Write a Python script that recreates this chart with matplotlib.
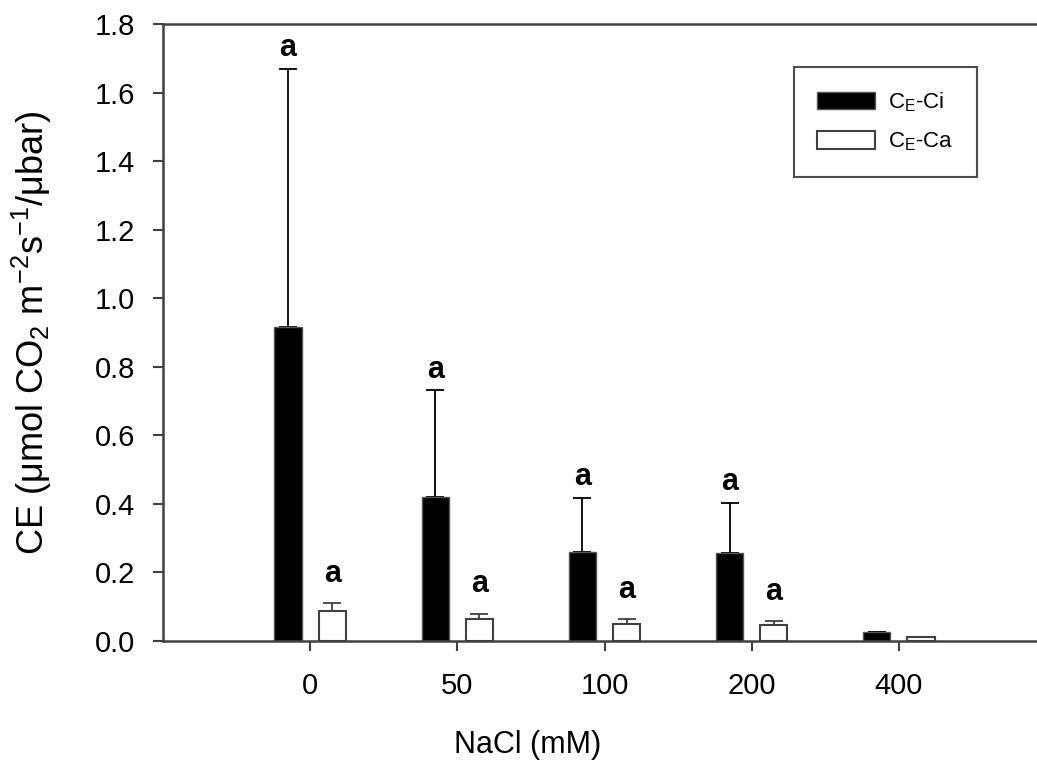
import matplotlib
matplotlib.use("Agg")
import matplotlib.pyplot as plt
import numpy as np

plt.rcParams['font.family'] = ['Liberation Sans', 'DejaVu Sans']
plt.rcParams['mathtext.default'] = 'regular'

# data
nacl = ['0', '50', '100', '200', '400']
ci_mean = [0.917, 0.421, 0.261, 0.257, 0.027]
ci_err = [0.753, 0.311, 0.156, 0.146, 0.0]
ca_mean = [0.088, 0.063, 0.050, 0.047, 0.012]
ca_err = [0.022, 0.017, 0.013, 0.012, 0.0]
ci_letters = ['a', 'a', 'a', 'a', '']
ca_letters = ['a', 'a', 'a', 'a', '']

x = np.arange(len(nacl))
w = 0.185
off = 0.15
edge = '#404040'

fig = plt.figure(figsize=(10.37, 7.7), dpi=100)
ax = fig.add_axes([163/1037, 1-641/770, (1046-163)/1037, (641-24)/770])

ax.bar(x - off, ci_mean, w, color='black', edgecolor='#555555', linewidth=1, label='C$_E$-Ci', zorder=2)
ax.bar(x + off, ca_mean, w, color='white', edgecolor=edge, linewidth=1.5, label='C$_E$-Ca', zorder=2)

# only the upper half of the error bars is drawn
ax.errorbar(x - off, ci_mean, yerr=[np.zeros(5), ci_err], fmt='none', ecolor='black',
            elinewidth=1.3, capsize=6.5, capthick=1.3, zorder=1)
ax.errorbar(x + off, ca_mean, yerr=[np.zeros(5), ca_err], fmt='none', ecolor=edge,
            elinewidth=1.3, capsize=6.5, capthick=1.3, zorder=1)

for i in range(len(nacl)):
    if ci_letters[i]:
        ax.text(x[i] - off, ci_mean[i] + ci_err[i] + 0.06, ci_letters[i], ha='center', va='center',
                fontsize=22, fontweight='bold')
    if ca_letters[i]:
        ax.text(x[i] + off, ca_mean[i] + ca_err[i] + 0.085, ca_letters[i], ha='center', va='center',
                fontsize=22, fontweight='bold')

ax.set_xlim(-1, 5)
ax.set_ylim(0, 1.8)
ax.set_yticks(np.arange(0, 1.81, 0.2))
ax.set_yticklabels(['%.1f' % v for v in np.arange(0, 1.81, 0.2)])
ax.set_xticks(x)
ax.set_xticklabels(nacl)
ax.tick_params(axis='y', direction='out', length=7, width=1.5, pad=13, labelsize=21, color=edge)
ax.tick_params(axis='x', direction='out', length=7, width=1.5, pad=15, labelsize=21, color=edge)

for s in ['left', 'top', 'bottom']:
    ax.spines[s].set_color(edge)
    ax.spines[s].set_linewidth(1.8)
ax.spines['right'].set_visible(False)

ax.set_xlabel('NaCl (mM)', fontsize=22)
ax.xaxis.set_label_coords(0.413, -0.145)
ax.set_ylabel('CE (\u03bcmol CO$_2$ m$^{-2}$s$^{-1}$/\u03bcbar)', fontsize=26)
ax.yaxis.set_label_coords(-0.123, 0.5)

leg = ax.legend(loc='upper right', bbox_to_anchor=(977/1037, 1-67/770), bbox_transform=fig.transFigure,
                fontsize=16, frameon=True, fancybox=False, handlelength=2.6, handleheight=0.85,
                handletextpad=0.6, borderpad=1.05, labelspacing=0.75, borderaxespad=0)
leg.get_frame().set_edgecolor('#202020')
leg.get_frame().set_linewidth(1.5)

fig.savefig('out.png', dpi=100)
